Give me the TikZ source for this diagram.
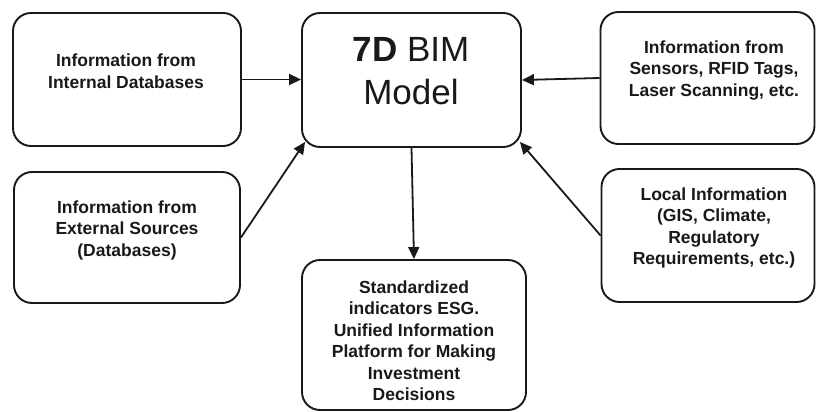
\documentclass[tikz,border=0pt]{standalone}
\usepackage{fontspec}
\setmainfont{Liberation Sans}
\usetikzlibrary{arrows.meta,calc}
\tikzset{
  box/.style={draw=black!90, line width=1.9pt, rounded corners=18pt, inner sep=0pt, fill=white},
  txt/.style={inner sep=0pt, align=center, text=black!90, font=\fontsize{17.5}{21.5}\selectfont\bfseries},
  bigtxt/.style={inner sep=0pt, align=center, text=black!90, font=\fontsize{35}{43}\selectfont},
  conn/.style={draw=black!90, line width=1.8pt, -{Triangle[length=12pt,width=11pt]}}
}
\begin{document}
\begin{tikzpicture}[x=1pt,y=-1pt]
\useasboundingbox (0,0) rectangle (816,412);
% boxes
\node[box, minimum width=228pt, minimum height=133pt] (b1) at (127,79.5) {};
\node[box, minimum width=219pt, minimum height=134pt] (b2) at (411.5,80) {};
\node[box, minimum width=214pt, minimum height=132pt] (b3) at (707.5,78) {};
\node[box, minimum width=226pt, minimum height=131pt] (b4) at (127,237.5) {};
\node[box, minimum width=224pt, minimum height=150pt] (b5) at (414,335) {};
\node[box, minimum width=213pt, minimum height=133pt] (b6) at (708,235.5) {};
% texts
\node[txt] (t1) at (126,71.2) {Information from\\Internal Databases};
\node[bigtxt] (t2) at (411,71) {\textbf{7D} BIM\\Model};
\node[txt] (t3) at (714,70.5) {Information from\\Sensors, RFID Tags,\\Laser Scanning, etc.};
\node[txt] (t4) at (127,230) {Information from\\External Sources\\(Databases)};
\node[txt] (t5) at (414,340.6) {Standardized\\indicators ESG.\\Unified Information\\Platform for Making\\Investment\\Decisions};
\node[txt] (t6) at (714,228) {Local Information\\(GIS, Climate,\\Regulatory\\Requirements, etc.)};
% connectors
\draw[conn] (b1.east) -- (b2.west |- b1.east);
\draw[conn] (b3.west) -- (b2.east);
\draw[conn] (b4.east) -- ($(b2.south west)+(4,-6)$);
\draw[conn] (b6.west) -- ($(b2.south east)+(-2,-6)$);
\draw[conn] (b2.south) -- (b5.north);
\end{tikzpicture}
\end{document}
